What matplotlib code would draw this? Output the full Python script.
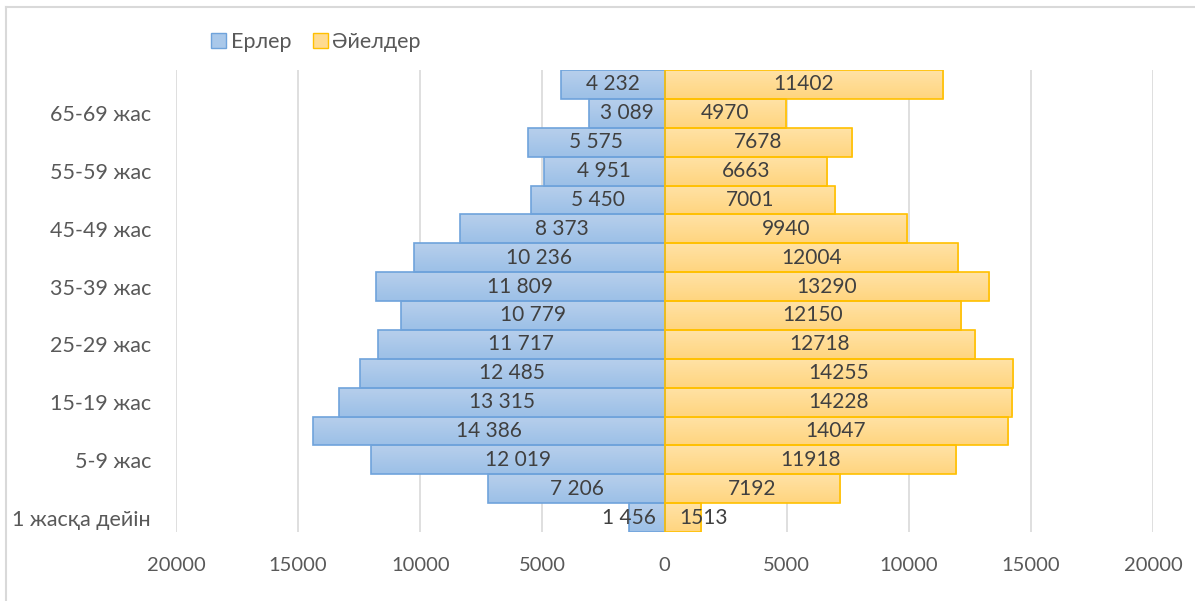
import numpy as np
import matplotlib.pyplot as plt
from matplotlib.lines import Line2D
from matplotlib.patches import Patch
from matplotlib.colors import LinearSegmentedColormap

plt.rcParams['font.family'] = ['Lato', 'Open Sans', 'DejaVu Sans']

# --- данные (снизу вверх) ---
age_groups = ["1 жасқа дейін", "1-4 жас", "5-9 жас", "10-14 жас", "15-19 жас",
              "20-24 жас", "25-29 жас", "30-34 жас", "35-39 жас", "40-44 жас",
              "45-49 жас", "50-54 жас", "55-59 жас", "60-64 жас", "65-69 жас",
              "70 және одан жоғары"]
men = [1456, 7206, 12019, 14386, 13315, 12485, 11717, 10779, 11809, 10236,
       8373, 5450, 4951, 5575, 3089, 4232]
women = [1513, 7192, 11918, 14047, 14228, 14255, 12718, 12150, 13290, 12004,
         9940, 7001, 6663, 7678, 4970, 11402]
x_ticks = [-20000, -15000, -10000, -5000, 0, 5000, 10000, 15000, 20000]
x_tick_labels = ["20000", "15000", "10000", "5000", "0", "5000", "10000", "15000", "20000"]

text_color = "#595959"
blue_edge, yellow_edge = "#6FA3DB", "#FFC000"
blue_cmap = LinearSegmentedColormap.from_list("b", ["#9CC0E7", "#B7CFEC"])
yellow_cmap = LinearSegmentedColormap.from_list("y", ["#FFD57F", "#FFE2A6"])

fig = plt.figure(figsize=(11.95, 6.01), dpi=100)
ax = fig.add_axes([176 / 1195, 1 - 532 / 601, 977 / 1195, 462 / 601])

y = np.arange(len(age_groups))
men_neg = -np.array(men)
bars_m = ax.barh(y, men_neg, height=1.0, color="none", edgecolor=blue_edge, linewidth=1.2, zorder=4)
bars_w = ax.barh(y, women, height=1.0, color="none", edgecolor=yellow_edge, linewidth=1.2, zorder=4)

# градиентная заливка столбцов
grad = np.linspace(0, 1, 50).reshape(-1, 1)
for bars, cmap in ((bars_m, blue_cmap), (bars_w, yellow_cmap)):
    for b in bars:
        x0, y0 = b.get_x(), b.get_y()
        w, h = b.get_width(), b.get_height()
        im = ax.imshow(grad, cmap=cmap, aspect="auto", origin="lower",
                       extent=[min(x0, x0 + w), max(x0, x0 + w), y0, y0 + h], zorder=3)
        im.set_clip_path(b)

# подписи значений (узкие столбцы - подпись сдвинута от нуля)
for i in range(len(y)):
    m_txt = f"{men[i]:,}".replace(",", " ")
    if men[i] < 3000:
        ax.text(-370, y[i], m_txt, ha="right", va="center", fontsize=15, color="#404040", zorder=5)
    else:
        ax.text(men_neg[i] / 2, y[i], m_txt, ha="center", va="center", fontsize=15,
                color="#404040", zorder=5)
    if women[i] < 3000:
        ax.text(620, y[i], str(women[i]), ha="left", va="center", fontsize=15, color="#404040", zorder=5)
    else:
        ax.text(women[i] / 2, y[i], str(women[i]), ha="center", va="center", fontsize=15,
                color="#404040", zorder=5)

ax.set_xlim(-20000, 20000)
ax.set_ylim(-0.5, len(y) - 0.5)
ax.set_xticks(x_ticks)
ax.set_xticklabels(x_tick_labels)
ax.set_yticks(y[::2])
ax.set_yticklabels(age_groups[::2])
ax.tick_params(axis="x", length=0, labelsize=14.5, colors=text_color, pad=18)
ax.tick_params(axis="y", length=0, labelsize=15.5, colors=text_color, pad=18)
ax.grid(axis="x", color="#D9D9D9", linewidth=1.2, zorder=0)
ax.set_axisbelow(True)
for s in ax.spines.values():
    s.set_visible(False)

# легенда
handles = [Patch(facecolor="#A9C8EA", edgecolor=blue_edge, label="Ерлер"),
           Patch(facecolor="#FFDB91", edgecolor=yellow_edge, label="Әйелдер")]
fig.legend(handles=handles, loc="center", bbox_to_anchor=(316 / 1195, 1 - 42 / 601),
           ncol=2, frameon=False, fontsize=15.5, labelcolor=text_color,
           handlelength=0.7, handleheight=0.7, handletextpad=0.2, columnspacing=1.0)

# рамка диаграммы
fig.add_artist(Line2D([6.5 / 1195, 6.5 / 1195], [0, 1 - 6.5 / 601], color="#D9D9D9", lw=1.5))
fig.add_artist(Line2D([6.5 / 1195, 1], [1 - 6.5 / 601, 1 - 6.5 / 601], color="#D9D9D9", lw=1.5))

fig.savefig("out.png", dpi=100)
